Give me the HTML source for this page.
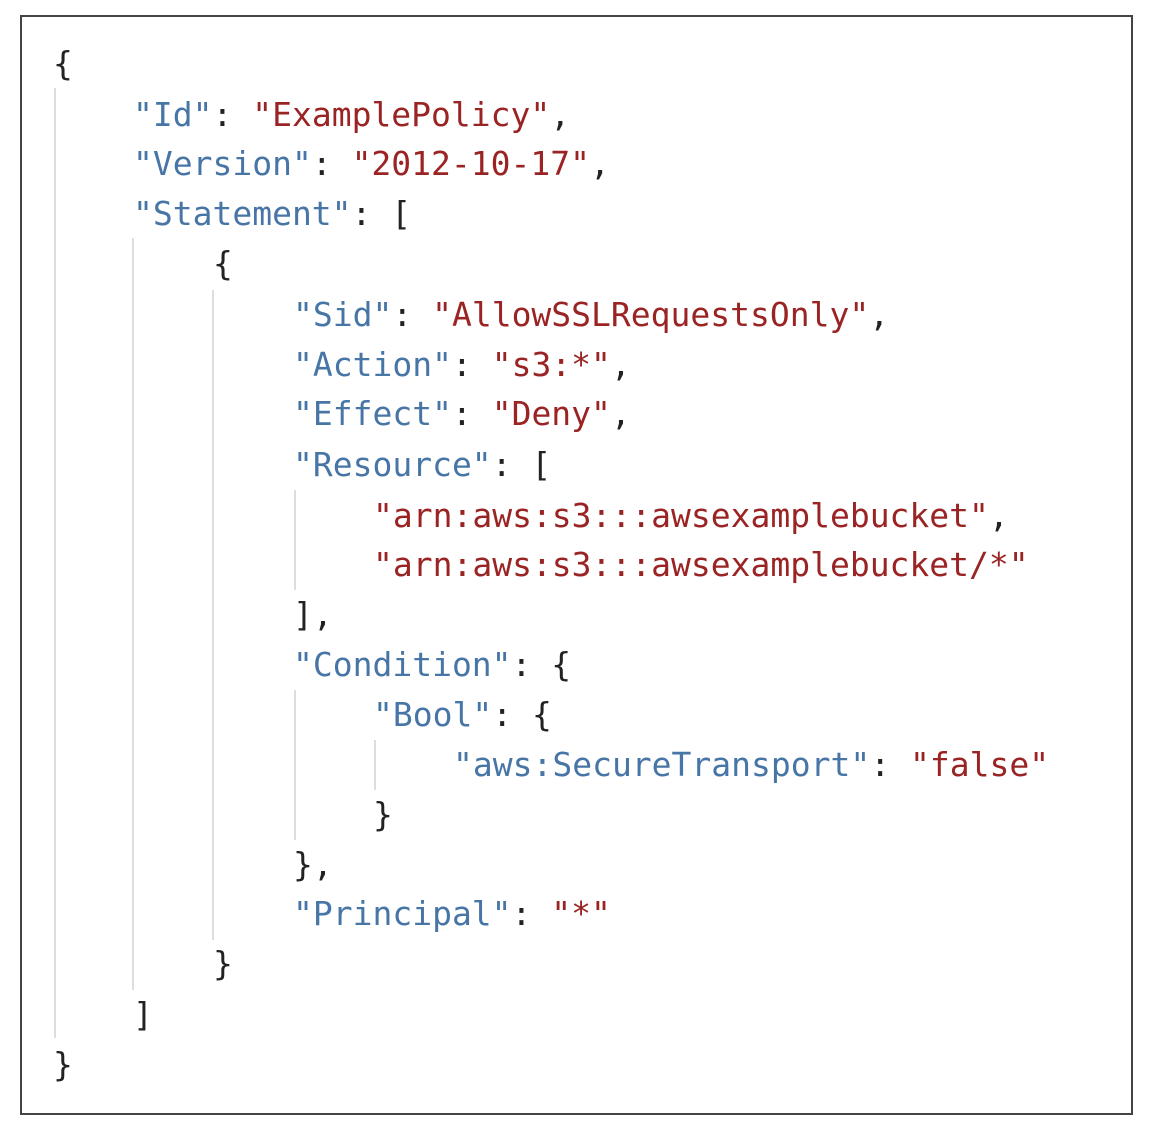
<!DOCTYPE html>
<html><head><style>
body{margin:0;width:1152px;height:1134px;background:#fff;position:relative;overflow:hidden}
.box{position:absolute;left:20px;top:15px;width:1109px;height:1096px;border:2px solid #444}
.l{position:absolute;font-family:"DejaVu Sans Mono","Liberation Mono",monospace;font-size:33px;line-height:38px;white-space:pre;color:#222}
.k{color:#4775a6}.s{color:#9a2424}
.g{position:absolute;width:2px;background:#ddd}
</style></head><body>
<div class="box"></div>
<div class="g" style="left:54px;top:88px;height:950px"></div>
<div class="g" style="left:132px;top:238px;height:752px"></div>
<div class="g" style="left:212px;top:290px;height:650px"></div>
<div class="g" style="left:294px;top:490px;height:100px"></div>
<div class="g" style="left:294px;top:690px;height:150px"></div>
<div class="g" style="left:374px;top:740px;height:50px"></div>
<div class="l" style="left:53px;top:45px">{</div>
<div class="l" style="left:133px;top:96px"><span class="k">"Id"</span>: <span class="s">"ExamplePolicy"</span>,</div>
<div class="l" style="left:133px;top:145px"><span class="k">"Version"</span>: <span class="s">"2012-10-17"</span>,</div>
<div class="l" style="left:133px;top:195px"><span class="k">"Statement"</span>: [</div>
<div class="l" style="left:213px;top:245px">{</div>
<div class="l" style="left:293px;top:296px"><span class="k">"Sid"</span>: <span class="s">"AllowSSLRequestsOnly"</span>,</div>
<div class="l" style="left:293px;top:346px"><span class="k">"Action"</span>: <span class="s">"s3:*"</span>,</div>
<div class="l" style="left:293px;top:395px"><span class="k">"Effect"</span>: <span class="s">"Deny"</span>,</div>
<div class="l" style="left:293px;top:446px"><span class="k">"Resource"</span>: [</div>
<div class="l" style="left:373px;top:497px"><span class="s">"arn:aws:s3:::awsexamplebucket"</span>,</div>
<div class="l" style="left:373px;top:546px"><span class="s">"arn:aws:s3:::awsexamplebucket/*"</span></div>
<div class="l" style="left:293px;top:596px">],</div>
<div class="l" style="left:293px;top:646px"><span class="k">"Condition"</span>: {</div>
<div class="l" style="left:373px;top:696px"><span class="k">"Bool"</span>: {</div>
<div class="l" style="left:453px;top:746px"><span class="k">"aws:SecureTransport"</span>: <span class="s">"false"</span></div>
<div class="l" style="left:373px;top:796px">}</div>
<div class="l" style="left:293px;top:846px">},</div>
<div class="l" style="left:293px;top:895px"><span class="k">"Principal"</span>: <span class="s">"*"</span></div>
<div class="l" style="left:213px;top:945px">}</div>
<div class="l" style="left:133px;top:996px">]</div>
<div class="l" style="left:53px;top:1046px">}</div>
</body></html>
